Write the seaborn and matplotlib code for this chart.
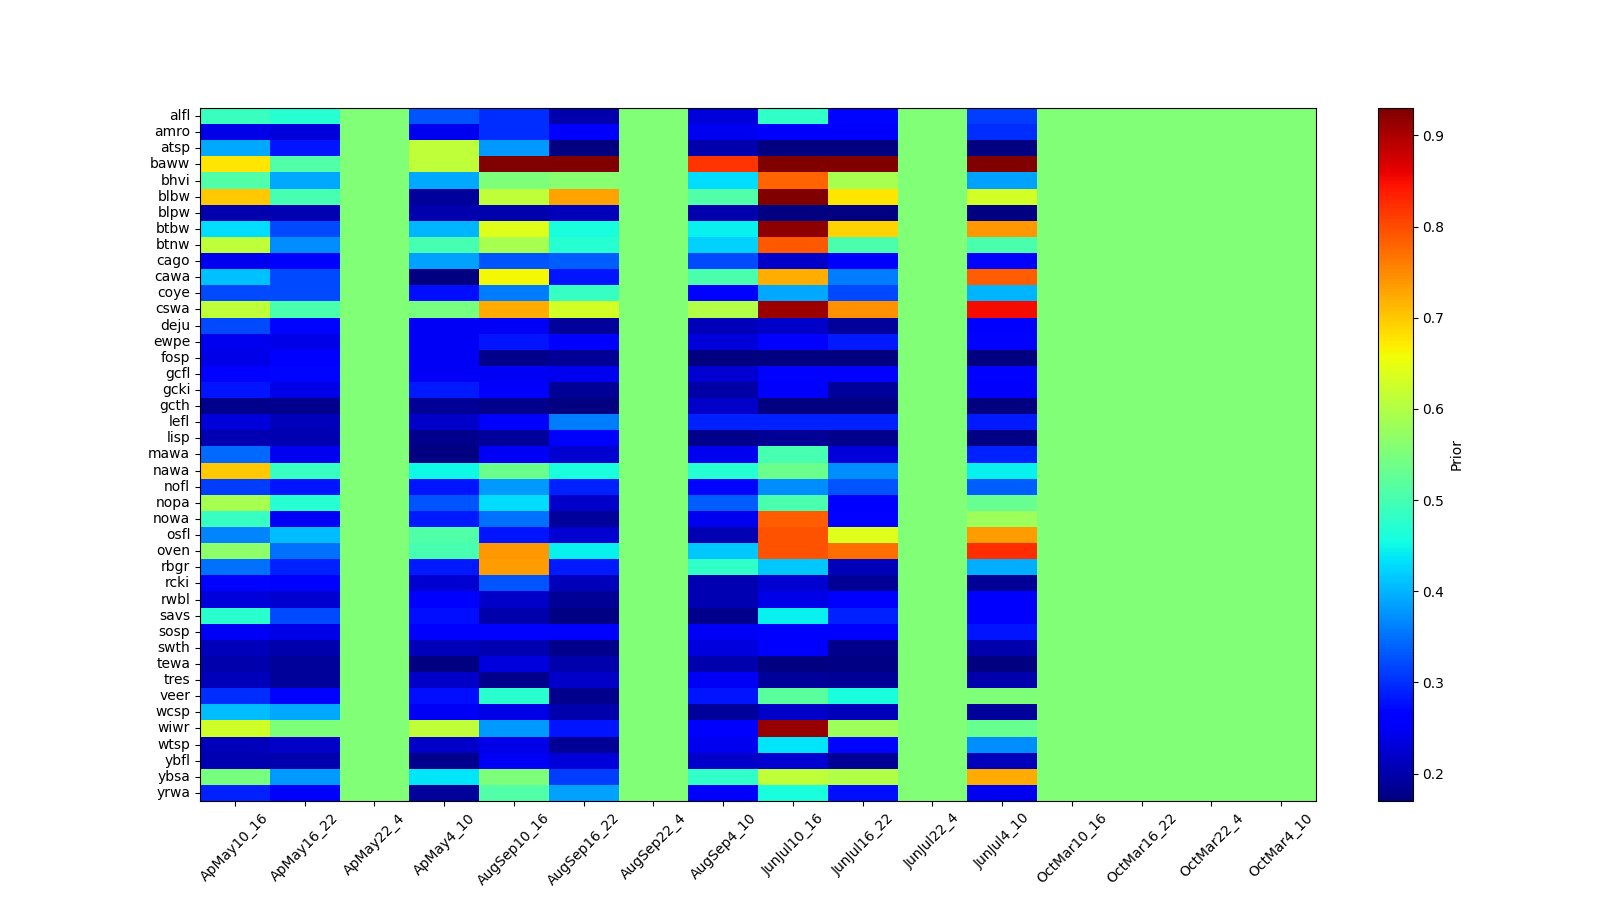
import numpy as np
import pandas as pd
import matplotlib
matplotlib.use("Agg")
import matplotlib.pyplot as plt
import seaborn as sns

species = ["alfl", "amro", "atsp", "baww", "bhvi", "blbw", "blpw", "btbw", "btnw",
           "cago", "cawa", "coye", "cswa", "deju", "ewpe", "fosp", "gcfl", "gcki",
           "gcth", "lefl", "lisp", "mawa", "nawa", "nofl", "nopa", "nowa", "osfl",
           "oven", "rbgr", "rcki", "rwbl", "savs", "sosp", "swth", "tewa", "tres",
           "veer", "wcsp", "wiwr", "wtsp", "ybfl", "ybsa", "yrwa"]

periods = ["ApMay10_16", "ApMay16_22", "ApMay22_4", "ApMay4_10",
           "AugSep10_16", "AugSep16_22", "AugSep22_4", "AugSep4_10",
           "JunJul10_16", "JunJul16_22", "JunJul22_4", "JunJul4_10",
           "OctMar10_16", "OctMar16_22", "OctMar22_4", "OctMar4_10"]

# value of the flat (uninformative) columns
flat = 0.555

apmay10_16 = [0.49, 0.24, 0.39, 0.675, 0.51, 0.70, 0.20, 0.43, 0.61, 0.245, 0.41,
              0.32, 0.61, 0.32, 0.245, 0.24, 0.265, 0.28, 0.18, 0.23, 0.205, 0.345,
              0.70, 0.31, 0.59, 0.485, 0.365, 0.565, 0.35, 0.265, 0.23, 0.475, 0.25,
              0.21, 0.20, 0.21, 0.30, 0.405, 0.625, 0.21, 0.205, 0.545, 0.29]
apmay16_22 = [0.47, 0.23, 0.28, 0.51, 0.39, 0.50, 0.205, 0.32, 0.37, 0.255, 0.32,
              0.32, 0.505, 0.27, 0.24, 0.255, 0.27, 0.24, 0.18, 0.21, 0.205, 0.245,
              0.485, 0.28, 0.47, 0.25, 0.405, 0.35, 0.29, 0.255, 0.225, 0.32, 0.24,
              0.20, 0.19, 0.19, 0.265, 0.39, 0.55, 0.22, 0.20, 0.38, 0.26]
apmay4_10 = [0.33, 0.245, 0.61, 0.61, 0.39, 0.19, 0.20, 0.40, 0.50, 0.385, 0.17,
             0.275, 0.545, 0.25, 0.25, 0.25, 0.25, 0.285, 0.185, 0.22, 0.18, 0.17,
             0.45, 0.28, 0.33, 0.285, 0.51, 0.50, 0.285, 0.225, 0.255, 0.275, 0.255,
             0.21, 0.17, 0.22, 0.275, 0.25, 0.61, 0.22, 0.18, 0.435, 0.19]
augsep10_16 = [0.30, 0.30, 0.38, 0.93, 0.55, 0.61, 0.20, 0.64, 0.59, 0.33, 0.66,
               0.36, 0.725, 0.25, 0.28, 0.18, 0.25, 0.26, 0.18, 0.26, 0.19, 0.25,
               0.535, 0.38, 0.43, 0.35, 0.28, 0.74, 0.735, 0.33, 0.22, 0.20, 0.265,
               0.205, 0.235, 0.18, 0.475, 0.24, 0.38, 0.24, 0.25, 0.55, 0.51]
augsep16_22 = [0.20, 0.255, 0.17, 0.93, 0.56, 0.73, 0.21, 0.46, 0.47, 0.335, 0.28,
               0.485, 0.63, 0.19, 0.26, 0.185, 0.245, 0.185, 0.17, 0.36, 0.26, 0.225,
               0.46, 0.29, 0.22, 0.19, 0.225, 0.445, 0.285, 0.21, 0.185, 0.175, 0.26,
               0.18, 0.20, 0.22, 0.18, 0.20, 0.28, 0.185, 0.23, 0.31, 0.385]
augsep4_10 = [0.23, 0.245, 0.20, 0.82, 0.43, 0.51, 0.20, 0.445, 0.42, 0.32, 0.505,
              0.265, 0.60, 0.21, 0.23, 0.17, 0.225, 0.195, 0.22, 0.29, 0.18, 0.245,
              0.47, 0.27, 0.335, 0.245, 0.205, 0.415, 0.48, 0.205, 0.205, 0.18, 0.25,
              0.235, 0.20, 0.25, 0.28, 0.19, 0.255, 0.245, 0.22, 0.48, 0.255]
junjul10_16 = [0.48, 0.255, 0.17, 0.93, 0.78, 0.93, 0.17, 0.92, 0.79, 0.22, 0.72,
               0.39, 0.91, 0.22, 0.265, 0.17, 0.265, 0.26, 0.17, 0.29, 0.185, 0.50,
               0.535, 0.37, 0.505, 0.785, 0.795, 0.795, 0.415, 0.225, 0.24, 0.445,
               0.255, 0.255, 0.17, 0.19, 0.52, 0.22, 0.915, 0.435, 0.225, 0.61, 0.46]
junjul16_22 = [0.27, 0.255, 0.17, 0.93, 0.59, 0.675, 0.17, 0.69, 0.505, 0.255, 0.36,
               0.32, 0.745, 0.19, 0.285, 0.17, 0.265, 0.19, 0.17, 0.29, 0.18, 0.23,
               0.37, 0.33, 0.255, 0.265, 0.64, 0.77, 0.21, 0.185, 0.255, 0.29, 0.26,
               0.18, 0.175, 0.185, 0.46, 0.21, 0.58, 0.27, 0.185, 0.60, 0.275]
junjul4_10 = [0.31, 0.30, 0.17, 0.93, 0.385, 0.63, 0.17, 0.74, 0.505, 0.265, 0.785,
              0.40, 0.85, 0.255, 0.265, 0.17, 0.265, 0.255, 0.17, 0.285, 0.175, 0.29,
              0.445, 0.335, 0.53, 0.58, 0.735, 0.825, 0.395, 0.185, 0.255, 0.255,
              0.28, 0.20, 0.17, 0.20, 0.55, 0.19, 0.53, 0.37, 0.21, 0.725, 0.245]

flat_col = [flat] * len(species)

columns = [apmay10_16, apmay16_22, flat_col, apmay4_10,
           augsep10_16, augsep16_22, flat_col, augsep4_10,
           junjul10_16, junjul16_22, flat_col, junjul4_10,
           flat_col, flat_col, flat_col, flat_col]

df = pd.DataFrame(np.array(columns).T, index=species, columns=periods)

fig, ax = plt.subplots(figsize=(16, 9), dpi=100)
sns.heatmap(df, cmap="jet", ax=ax, xticklabels=True, yticklabels=True,
            cbar_kws={"label": "Prior", "fraction": 0.05, "pad": 0.05})

for s in ax.spines.values():
    s.set_visible(True)
    s.set_linewidth(0.8)
cbar = ax.collections[0].colorbar
cbar.outline.set_linewidth(0.8)
cbar.outline.set_edgecolor("black")

plt.setp(ax.get_xticklabels(), rotation=45, ha="center")
plt.setp(ax.get_yticklabels(), rotation=0)
ax.set_xlabel("")
ax.set_ylabel("")

plt.savefig("out.png", dpi=100)
